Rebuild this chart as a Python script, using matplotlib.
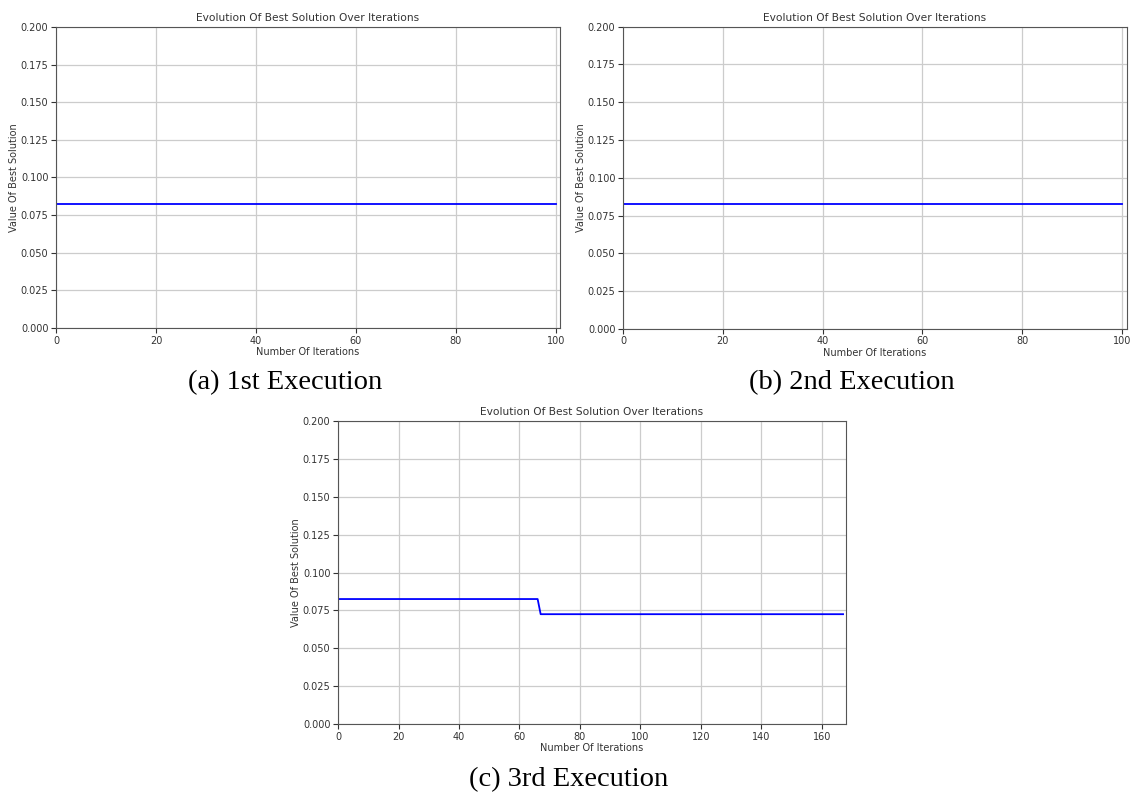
import matplotlib
matplotlib.use("Agg")
import matplotlib.pyplot as plt
import numpy as np

# best solution per run: (level values, how many iterations each level lasts)
run1_levels = [0.0825]
run1_counts = [101]
run2_levels = [0.0825]
run2_counts = [101]
run3_levels = [0.0825, 0.0725]
run3_counts = [67, 101]

captions = ["(a) 1st Execution", "(b) 2nd Execution", "(c) 3rd Execution"]
y_ticks = [0.0, 0.025, 0.05, 0.075, 0.1, 0.125, 0.15, 0.175, 0.2]


def draw_panel(fig, rect, levels, counts, xmax):
    ax = fig.add_axes(rect)
    best = np.repeat(levels, counts)
    iters = np.arange(len(best))
    ax.plot(iters, best, color="blue", linewidth=1.3)
    ax.set_xlim(0, xmax)
    ax.set_ylim(0, 0.2)
    ax.set_yticks(y_ticks)
    ax.yaxis.set_major_formatter(matplotlib.ticker.FormatStrFormatter("%.3f"))
    ax.set_title("Evolution Of Best Solution Over Iterations", fontsize=7.7, pad=4, color="#333333")
    ax.set_xlabel("Number Of Iterations", fontsize=7, labelpad=1, color="#333333")
    ax.set_ylabel("Value Of Best Solution", fontsize=7, labelpad=1.5, color="#333333")
    ax.tick_params(labelsize=7, length=3.5, pad=2, colors="#333333")
    ax.grid(True, color="#cccccc", linewidth=0.9)
    for s in ax.spines.values():
        s.set_color("#555555")
    return ax


fig = plt.figure(figsize=(11.34, 7.98), dpi=100)
draw_panel(fig, [0.0494, 0.589, 0.4444, 0.3772], run1_levels, run1_counts, 100.8)
draw_panel(fig, [0.5494, 0.588, 0.4444, 0.3785], run2_levels, run2_counts, 101)
draw_panel(fig, [0.2981, 0.0927, 0.448, 0.3797], run3_levels, run3_counts, 168)

# subfigure captions
fig.text(0.2518, 0.520, captions[0], ha="center", va="center", fontsize=20.5, family="Liberation Serif")
fig.text(0.7513, 0.520, captions[1], ha="center", va="center", fontsize=20.5, family="Liberation Serif")
fig.text(0.5015, 0.0226, captions[2], ha="center", va="center", fontsize=20.5, family="Liberation Serif")

fig.savefig("out.png", dpi=100)
